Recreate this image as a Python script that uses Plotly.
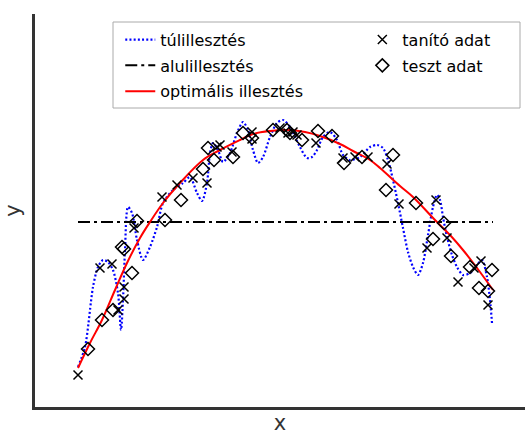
import plotly.graph_objects as go

# ---- data (arbitrary units) ----
over_x = [78, 85, 93, 98, 103, 108, 113, 118, 121, 123, 125, 128, 132, 137, 143, 150, 157, 163, 173, 183,
          190, 197, 202, 207, 210, 213, 218, 223, 230, 237, 243, 248, 253, 258, 263, 270, 277, 283, 290, 300,
          307, 312, 317, 323, 330, 337, 343, 350, 360, 370, 377, 383, 388, 393, 398, 403, 408, 413, 418, 423,
          428, 433, 437, 440, 443, 447, 452, 457, 463, 470, 477, 482, 487, 490, 492]
over_y = [40, 60, 120, 140, 147, 145, 137, 114, 77, 107, 157, 200, 194, 167, 147, 160, 180, 204, 217, 224,
          230, 214, 206, 224, 254, 264, 257, 245, 254, 274, 285, 277, 257, 244, 250, 270, 284, 287, 280, 260,
          249, 250, 257, 270, 275, 267, 252, 247, 250, 260, 262, 259, 247, 227, 204, 179, 155, 140, 132, 144,
          172, 200, 212, 207, 190, 170, 152, 140, 132, 134, 142, 147, 130, 107, 84]

under_x = [78, 493]
under_y = [185, 185]

opt_x = [78, 90, 102, 115, 127, 140, 150, 163, 180, 203, 220, 240, 253, 270, 287, 305, 320, 340, 353,
         370, 380, 400, 413, 435, 450, 463, 480, 493]
opt_y = [39, 64, 87, 117, 144, 169, 185, 204, 224, 247, 257, 267, 273, 276, 277, 275, 271, 263, 256,
         247, 239, 221, 210, 187, 172, 157, 135, 117]

train_x = [78, 100, 112, 118, 124, 124, 134, 162, 177, 193, 207, 217, 220, 252, 252, 280, 288, 293, 297,
           316, 343, 355, 368, 387, 399, 427, 436, 447, 458, 474, 481, 488, 232]
train_y = [32, 139, 143, 97, 120, 108, 179, 210, 222, 229, 224, 260, 262, 275, 268, 279, 274, 275, 272,
           264, 249, 250, 250, 243, 203, 159, 207, 169, 125, 139, 146, 102, 255]

test_x = [88, 102, 113, 122, 124, 132, 137, 165, 181, 203, 208, 214, 233, 243, 252, 273, 287, 290, 302,
          318, 332, 344, 362, 393, 386, 416, 433, 444, 451, 470, 479, 488, 492]
test_y = [58, 87, 97, 160, 158, 134, 186, 187, 207, 238, 259, 247, 250, 274, 269, 277, 277, 274, 267,
          276, 271, 244, 250, 252, 217, 204, 168, 184, 151, 140, 119, 116, 137]

labels = ["túlillesztés", "alulillesztés", "optimális illesztés", "tanító adat", "teszt adat"]

FONT = "DejaVu Sans"

fig = go.Figure()
fig.add_trace(go.Scatter(x=over_x, y=over_y, mode="lines", name=labels[0],
                         line=dict(color="#0000ff", width=2.2, dash="2px,2.2px", shape="spline", smoothing=0.8),
                         legend="legend", legendgroup="a"))
fig.add_trace(go.Scatter(x=under_x, y=under_y, mode="lines", name=labels[1],
                         line=dict(color="black", width=2, dash="12px,4px,3px,4px"),
                         legend="legend", legendgroup="b"))
fig.add_trace(go.Scatter(x=opt_x, y=opt_y, mode="lines", name=labels[2],
                         line=dict(color="#ff0000", width=2, shape="spline", smoothing=1),
                         legend="legend", legendgroup="c"))
fig.add_trace(go.Scatter(x=train_x, y=train_y, mode="markers", name=labels[3],
                         marker=dict(symbol="x-thin-open", size=9, color="black",
                                     line=dict(color="black", width=1.5)),
                         legend="legend2", legendgroup="d"))
fig.add_trace(go.Scatter(x=test_x, y=test_y, mode="markers", name=labels[4],
                         marker=dict(symbol="diamond-open", size=10, color="black",
                                     line=dict(color="black", width=1.5)),
                         legend="legend2", legendgroup="e"))

legend_common = dict(font=dict(family=FONT, size=16, color="black"), bgcolor="rgba(0,0,0,0)",
                     borderwidth=0, tracegroupgap=2, xanchor="left", yanchor="top")

fig.update_layout(
    width=525, height=435,
    margin=dict(l=35, r=0, t=14, b=28),
    paper_bgcolor="white", plot_bgcolor="white",
    showlegend=True,
    legend=dict(x=0.174, y=0.978, **legend_common),
    legend2=dict(x=0.668, y=0.978, **legend_common),
    xaxis=dict(range=[35, 525], showgrid=False, zeroline=False, showticklabels=False, ticks="",
               showline=True, linecolor="#333333", linewidth=2.5,
               title=dict(text="x", font=dict(family=FONT, size=21, color="#333333"), standoff=9)),
    yaxis=dict(range=[0, 393], showgrid=False, zeroline=False, showticklabels=False, ticks="",
               showline=True, linecolor="#333333", linewidth=2.5,
               title=dict(text="y", font=dict(family=FONT, size=21, color="#333333"), standoff=6)),
    shapes=[dict(type="rect", xref="paper", yref="paper",
                 x0=(113 - 35) / 490, x1=(520 - 35) / 490,
                 y0=(407 - 108) / 393, y1=(407 - 22) / 393,
                 line=dict(color="#aaaaaa", width=1), fillcolor="rgba(0,0,0,0)", layer="below")],
)

fig.write_html("out.html", config={"displayModeBar": False},
               post_script="document.body.style.margin='0';document.body.style.overflow='hidden';")
